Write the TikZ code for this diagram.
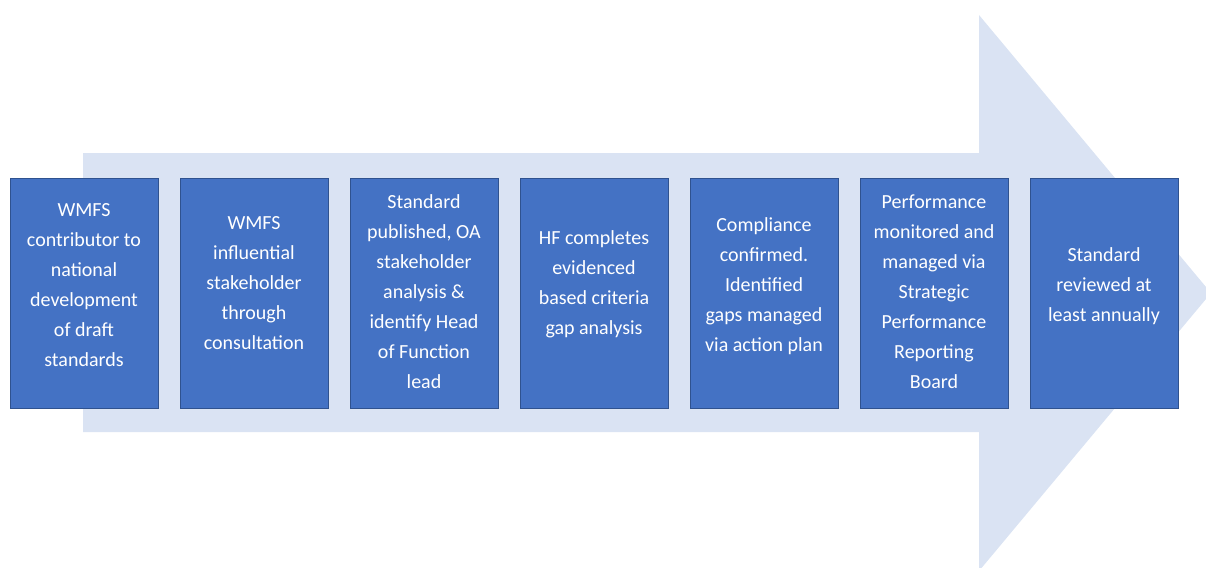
\documentclass[tikz,border=0pt]{standalone}
\usepackage{fontspec}
\setmainfont{Carlito}
\usepackage{tikz}

\definecolor{arrowblue}{HTML}{DAE3F3}
\definecolor{boxblue}{HTML}{4472C4}
\definecolor{boxedge}{HTML}{2F528F}

\tikzset{
	stepbox/.style={draw=boxedge, line width=0.75pt, fill=boxblue, minimum width=148pt, minimum height=230pt, inner sep=0pt},
	steptext/.style={text=white, align=center, font=\fontsize{20}{30}\selectfont, inner sep=0pt}
}

\begin{document}
\begin{tikzpicture}[x=1pt, y=-1pt]
		\useasboundingbox (0,0) rectangle (1206,567);
		\clip (0,0) rectangle (1206,567);
		
		% big arrow behind the steps
		\fill[arrowblue] (83,153) -- (979,153) -- (979,15) -- (1211,293) -- (979,571) -- (979,432) -- (83,432) -- cycle;
		
		\foreach \txt/\ty [count=\i from 0] in {
			{WMFS\\contributor to\\national\\development\\of draft\\standards}/285,
			{WMFS\\influential\\stakeholder\\through\\consultation}/283,
			{Standard\\published, OA\\stakeholder\\analysis \&\\identify Head\\of Function\\lead}/292,
			{HF completes\\evidenced\\based criteria\\gap analysis}/284,
			{Compliance\\confirmed.\\Identified\\gaps managed\\via action plan}/286,
			{Performance\\monitored and\\managed via\\Strategic\\Performance\\Reporting\\Board}/292,
			{Standard\\reviewed at\\least annually}/286} {
			\node[stepbox] (box\i) at (84+170*\i, 293) {};
			\node[steptext] (txt\i) at (84+170*\i, \ty) {\txt};
		}
	\end{tikzpicture}
\end{document}
